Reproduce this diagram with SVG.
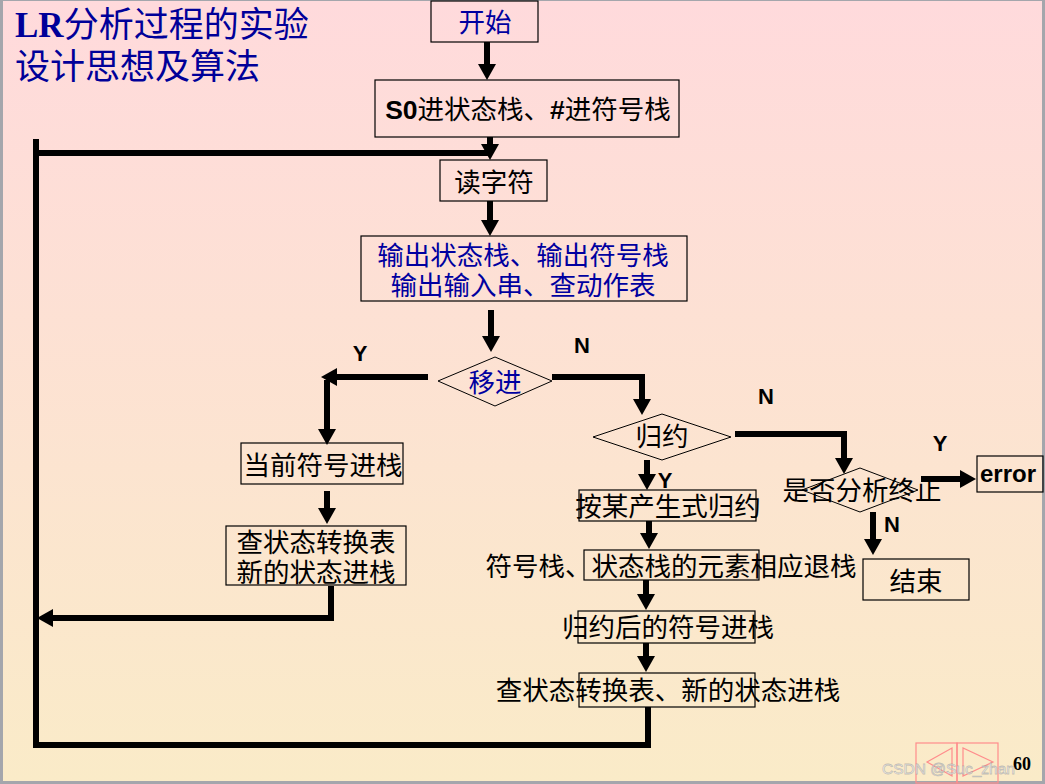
<svg xmlns="http://www.w3.org/2000/svg" width="1045" height="784" viewBox="0 0 1045 784">
  <defs>
    <linearGradient id="bg" x1="0" y1="0" x2="0" y2="1">
      <stop offset="0" stop-color="#FFDADC"/>
      <stop offset="1" stop-color="#FAEBC8"/>
    </linearGradient>
    <marker id="head" markerUnits="userSpaceOnUse" markerWidth="17" markerHeight="18" refX="0" refY="9" orient="auto">
      <path d="M0,0 L16,9 L0,18 Z" fill="#000"/>
    </marker>
    <style>
      .box { fill: none; stroke: #000; stroke-width: 1.2; }
      .dia { fill: none; stroke: #000; stroke-width: 1; }
      .wire { fill: none; stroke: #000; stroke-width: 6; stroke-linejoin: miter; }
      .arrow { fill: none; stroke: #000; stroke-width: 6; marker-end: url(#head); }
      .cn { font-family: "Liberation Serif", "Noto Sans CJK SC", serif; font-size: 26.5px; text-anchor: middle; fill: #000; }
      .blue { fill: #0000A0; }
      .lat { font-family: "Liberation Sans", Arial, sans-serif; font-weight: bold; }
      .yn { font-family: "Liberation Sans", Arial, sans-serif; font-weight: bold; font-size: 22px; text-anchor: middle; fill: #000; }
      .title { font-family: "Liberation Serif", "Noto Sans CJK SC", serif; font-size: 35px; fill: #000099; }
    </style>
  </defs>

  <!-- slide background and frame -->
  <rect x="0" y="0" width="1045" height="784" fill="#A4A6AC"/>
  <rect x="3" y="1" width="1039" height="780" fill="url(#bg)"/>

  <!-- title -->
  <text class="title" x="15" y="37"><tspan font-weight="bold">LR</tspan>分析过程的实验</text>
  <text class="title" x="15" y="79">设计思想及算法</text>

  <!-- connectors -->
  <g id="connectors">
    <line class="arrow" x1="487" y1="42" x2="487" y2="64"/>
    <line class="arrow" x1="490" y1="137" x2="490" y2="144"/>
    <polyline class="wire" points="36,139 36,745 648,745 648,707"/>
    <line class="wire" x1="33" y1="153" x2="490" y2="153"/>
    <line class="arrow" x1="490" y1="201" x2="490" y2="220"/>
    <line class="arrow" x1="491" y1="310" x2="491" y2="336"/>
    <!-- shift: Y -->
    <line class="arrow" x1="428" y1="377" x2="337" y2="377"/>
    <line class="arrow" x1="327" y1="380" x2="327" y2="429"/>
    <line class="arrow" x1="327" y1="491" x2="327" y2="508"/>
    <polyline class="arrow" points="331,586 331,618 53,618"/>
    <!-- shift: N -->
    <polyline class="arrow" points="552,377 642,377 642,399"/>
    <!-- reduce: N -->
    <polyline class="arrow" points="735,434 844,434 844,458"/>
    <!-- reduce: Y -->
    <line class="arrow" x1="647" y1="460" x2="647" y2="474"/>
    <line class="arrow" x1="649" y1="521" x2="649" y2="533"/>
    <line class="arrow" x1="646" y1="580" x2="646" y2="594"/>
    <line class="arrow" x1="646" y1="643" x2="646" y2="656"/>
    <!-- finished? -->
    <line class="arrow" x1="921" y1="479" x2="960" y2="479"/>
    <line class="arrow" x1="873" y1="512" x2="873" y2="539"/>
  </g>

  <!-- branch labels -->
  <text class="yn" x="360" y="361">Y</text>
  <text class="yn" x="582" y="353">N</text>
  <text class="yn" x="766" y="404">N</text>
  <text class="yn" x="940" y="451">Y</text>
  <text class="yn" x="665" y="488">Y</text>
  <text class="yn" x="892" y="532">N</text>

  <!-- nodes -->
  <g id="start">
    <rect class="box" x="431" y="1" width="107" height="41"/>
    <text class="cn blue" x="485" y="32" font-size="26">开始</text>
  </g>
  <g id="init">
    <rect class="box" x="375" y="80" width="304" height="57"/>
    <text class="cn" x="528" y="119"><tspan class="lat">S0</tspan>进状态栈、<tspan class="lat">#</tspan>进符号栈</text>
  </g>
  <g id="read">
    <rect class="box" x="440" y="160" width="107" height="41"/>
    <text class="cn" x="494" y="192">读字符</text>
  </g>
  <g id="output">
    <rect class="box" x="361" y="236" width="326" height="65"/>
    <text class="cn blue" x="523" y="265">输出状态栈、输出符号栈</text>
    <text class="cn blue" x="523" y="295">输出输入串、查动作表</text>
  </g>
  <g id="shift">
    <polygon class="dia" points="438,381 495,357 552,381 495,406"/>
    <text class="cn blue" x="495" y="392">移进</text>
  </g>
  <g id="push-symbol">
    <rect class="box" x="241" y="443" width="162" height="41"/>
    <text class="cn" x="323" y="475">当前符号进栈</text>
  </g>
  <g id="push-state">
    <rect class="box" x="226" y="526" width="180" height="59"/>
    <text class="cn" x="316" y="552">查状态转换表</text>
    <text class="cn" x="316" y="582">新的状态进栈</text>
  </g>
  <g id="reduce">
    <polygon class="dia" points="593,437 662,414 731,437 662,460"/>
    <text class="cn" x="662" y="446" font-size="26">归约</text>
  </g>
  <g id="finished">
    <polygon class="dia" points="802,490 860,468 918,490 860,512"/>
    <text class="cn" x="862" y="500">是否分析终止</text>
  </g>
  <g id="error">
    <rect class="box" x="977" y="456" width="66" height="36"/>
    <text class="lat" x="980" y="482" font-size="24" fill="#000">error</text>
  </g>
  <g id="end">
    <rect class="box" x="863" y="559" width="106" height="41"/>
    <text class="cn" x="916" y="591">结束</text>
  </g>
  <g id="apply-rule">
    <rect class="box" x="579" y="490" width="177" height="31"/>
    <text class="cn" x="668" y="516">按某产生式归约</text>
  </g>
  <g id="pop">
    <rect class="box" x="584" y="550" width="175" height="30"/>
    <text class="cn" x="671" y="576">符号栈、状态栈的元素相应退栈</text>
  </g>
  <g id="push-lhs">
    <rect class="box" x="578" y="611" width="177" height="32"/>
    <text class="cn" x="668" y="637">归约后的符号进栈</text>
  </g>
  <g id="goto">
    <rect class="box" x="579" y="673" width="176" height="34"/>
    <text class="cn" x="668" y="700">查状态转换表、新的状态进栈</text>
  </g>

  <!-- slide navigation and page number -->
  <g fill="none" stroke="#FF8C8C" stroke-width="1.2">
    <rect x="916" y="743" width="41" height="40"/>
    <rect x="957" y="743" width="41" height="40"/>
    <polygon points="927,762 952,748 952,776"/>
    <polygon points="993,762 963,748 963,776"/>
  </g>
  <text x="1013" y="770" font-family="Liberation Serif, serif" font-weight="bold" font-size="18" fill="#000">60</text>
  <text x="882" y="774" font-family="Liberation Sans, Arial, sans-serif" font-size="15.5" fill="#FFFFFF" fill-opacity="0.75" stroke="#9A9A9A" stroke-opacity="0.6" stroke-width="0.8">CSDN @Suc_zhan</text>
</svg>
